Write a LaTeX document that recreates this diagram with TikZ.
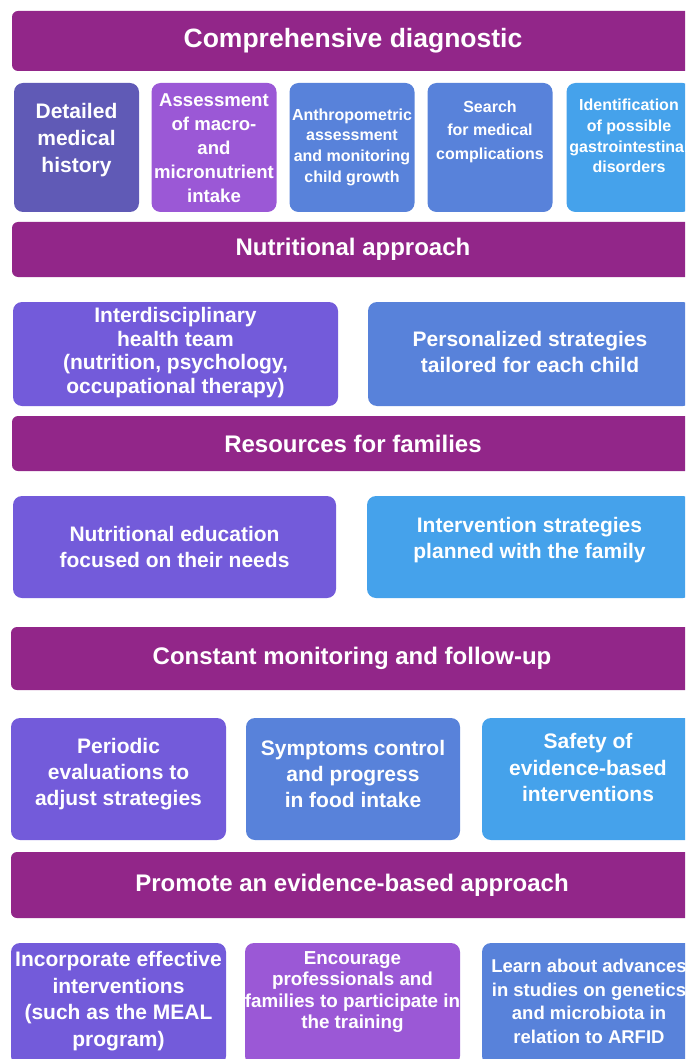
\documentclass[tikz,border=0pt]{standalone}
\usepackage{fontspec}
\setmainfont{Liberation Sans}
\usepackage{tikz}

\definecolor{plum}{RGB}{146,38,137}
\definecolor{cslate}{RGB}{96,90,182}
\definecolor{cviolet}{RGB}{155,88,214}
\definecolor{cindigo}{RGB}{115,91,218}
\definecolor{croyal}{RGB}{88,130,218}
\definecolor{csky}{RGB}{69,162,235}

\begin{document}
\begin{tikzpicture}[x=1pt, y=-1pt,
    every node/.style={inner sep=0pt, align=center, text=white},
    headbar/.style={fill=plum, rounded corners=6pt, minimum width=682pt, font=\fontsize{24}{29}\selectfont\bfseries},
    card/.style={rounded corners=9pt},
    txt/.style 2 args={font=\fontsize{#1}{#2}\selectfont\bfseries}]
        \useasboundingbox (0,0) rectangle (685,1059);
        \clip (0,0) rectangle (685,1059);

        % Comprehensive diagnostic
        \node (diag) [headbar, minimum height=60pt, txt={26.5}{30}] at (353,41) {Comprehensive diagnostic};
        \node (hist) [card, fill=cslate, minimum width=125pt, minimum height=129pt] at (76.5,147.5) {};
        \node (histtxt) [txt={21}{27}] at (76.5,140) {Detailed\\medical\\history};
        \node (intake) [card, fill=cviolet, minimum width=125pt, minimum height=129pt] at (214,147.5) {};
        \node (intaketxt) [txt={18.6}{24}] at (214,148) {Assessment\\of macro-\\and\\micronutrient\\intake};
        \node (growth) [card, fill=croyal, minimum width=125pt, minimum height=129pt] at (352,147.5) {};
        \node (growthtxt) [txt={16}{20.7}] at (352,147) {Anthropometric\\assessment\\and monitoring\\child growth};
        \node (search) [card, fill=croyal, minimum width=125pt, minimum height=129pt] at (490,147.5) {};
        \node (searchtxt) [txt={16}{23.5}] at (490,131.5) {Search\\for medical\\complications};
        \node (gastro) [card, fill=csky, minimum width=125pt, minimum height=129pt] at (629,147.5) {};
        \node (gastrotxt) [txt={16}{20.7}] at (629,136) {Identification\\of possible\\gastrointestinal\\disorders};

        % Nutritional approach
        \node (nutri) [headbar, minimum height=55pt] at (353,249.5) {Nutritional approach};
        \node (team) [card, fill=cindigo, minimum width=325pt, minimum height=104pt] at (175.5,354) {};
        \node (teamtxt) [txt={21}{23.7}] at (175.5,352.5) {Interdisciplinary\\health team\\(nutrition, psychology,\\occupational therapy)};
        \node (tailor) [card, fill=croyal, minimum width=324pt, minimum height=104pt] at (530,354) {};
        \node (tailortxt) [txt={21}{26}] at (530,352) {Personalized strategies\\tailored for each child};

        % Resources for families
        \node (res) [headbar, minimum height=55pt] at (353,443.5) {Resources for families};
        \node (educ) [card, fill=cindigo, minimum width=323pt, minimum height=102pt] at (174.5,547) {};
        \node (eductxt) [txt={21}{26}] at (174.5,547) {Nutritional education\\focused on their needs};
        \node (plan) [card, fill=csky, minimum width=325pt, minimum height=102pt] at (529.5,547) {};
        \node (plantxt) [txt={21}{26}] at (529.5,540) {Intervention strategies\\planned with the family};

        % Constant monitoring and follow-up
        \node (mon) [headbar, minimum height=63pt] at (352,658.5) {Constant monitoring and follow-up};
        \node (eval) [card, fill=cindigo, minimum width=215pt, minimum height=122pt] at (118.5,779) {};
        \node (evaltxt) [txt={21}{26}] at (118.5,774) {Periodic\\evaluations to\\adjust strategies};
        \node (symp) [card, fill=croyal, minimum width=214pt, minimum height=122pt] at (353,779) {};
        \node (symptxt) [txt={21}{26}] at (353,774) {Symptoms control\\and progress\\in food intake};
        \node (safe) [card, fill=csky, minimum width=212pt, minimum height=122pt] at (588,779) {};
        \node (safetxt) [txt={21}{26.5}] at (588,767.5) {Safety of\\evidence-based\\interventions};

        % Promote an evidence-based approach
        \node (prom) [headbar, minimum height=66pt] at (352,885) {Promote an evidence-based approach};
        \node (meal) [card, fill=cindigo, minimum width=215pt, minimum height=122pt] at (118.5,1004) {};
        \node (mealtxt) [txt={21}{26.7}] at (118.5,1001) {Incorporate effective\\interventions\\(such as the MEAL\\program)};
        \node (train) [card, fill=cviolet, minimum width=215pt, minimum height=122pt] at (352.5,1004) {};
        \node (traintxt) [txt={18.8}{21.3}] at (352.5,992) {Encourage\\professionals and\\families to participate in\\the training};
        \node (arfid) [card, fill=croyal, minimum width=214pt, minimum height=122pt] at (589,1004) {};
        \node (arfidtxt) [txt={18.5}{23.7}] at (589,1001.5) {Learn about advances\\in studies on genetics\\and microbiota in\\relation to ARFID};
\end{tikzpicture}
\end{document}
